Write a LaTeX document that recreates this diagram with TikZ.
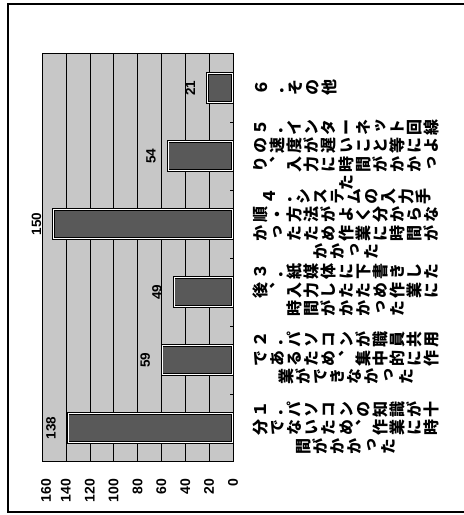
\documentclass[tikz,border=0pt]{standalone}
\usepackage{graphicx}
\usepackage{fontspec}
\setmainfont{Liberation Sans}
\newfontfamily\vjp[RawFeature=+vert]{Noto Sans CJK JP}
\newfontfamily\jph{Noto Sans CJK JP}
% one turned character cell, and a row of them
\newcommand\vcell[1]{\rotatebox[origin=c]{90}{\makebox[1em]{\rule[-0.155em]{0pt}{1.07em}#1}}}
\newcommand\vrow[1]{\vrowi#1\relax}
\def\vrowi#1{\ifx\relax#1\else\vcell{#1}\expandafter\vrowi\fi}
\newcommand\chouon{{\jph ー}}
\newcommand\fwdot{{\jph ．}}

\begin{document}
\begin{tikzpicture}[x=1pt, y=1pt, node distance=18.5pt,
        bar/.style={draw=black, line width=0.9pt, double=white, double distance=0.7pt, fill=black!65, minimum height=29pt, inner sep=0pt, anchor=east},
        val/.style={rotate=90, inner sep=0pt, font=\fontsize{13.5}{14}\selectfont\bfseries},
        axislab/.style={rotate=90, inner sep=0pt, anchor=east, font=\fontsize{14}{14}\selectfont\bfseries},
        cat/.style={inner sep=0pt, font=\vjp\fontsize{16}{16}\selectfont\bfseries}]
        \useasboundingbox (0,0) rectangle (464,515);
        % Frame
        \draw[line width=1.1pt] (464,511) -- (8,511) -- (8,3) -- (464,3);

        % Plot area
        \node (plot) [fill=black!22, minimum width=191pt, minimum height=408pt, inner sep=0pt, anchor=south west] at (42,53) {};
        \draw (209.1,53) -- (209.1,461);
        \draw (185.25,53) -- (185.25,461);
        \draw (161.4,53) -- (161.4,461);
        \draw (137.5,53) -- (137.5,461);
        \draw (113.6,53) -- (113.6,461);
        \draw (89.75,53) -- (89.75,461);
        \draw (65.9,53) -- (65.9,461);
        \draw[line width=1pt] (plot.south west) rectangle (plot.north east);

        % Bars
        \node (bar1) [bar, minimum width=164.7pt] at (233,87) {};
        \node (bar2) [bar, minimum width=70.4pt] at (233,155) {};
        \node (bar3) [bar, minimum width=58.5pt] at (233,223) {};
        \node (bar4) [bar, minimum width=179.1pt] at (233,291) {};
        \node (bar5) [bar, minimum width=64.5pt] at (233,359) {};
        \node (bar6) [bar, minimum width=25.1pt] at (233,427) {};
        \draw (233,121) -- (230,121);
        \draw (233,189) -- (230,189);
        \draw (233,257) -- (230,257);
        \draw (233,325) -- (230,325);
        \draw (233,393) -- (230,393);

        % Values
        \node (v1) [val] at ([xshift=-16.5pt]bar1.west) {138};
        \node (v2) [val] at ([xshift=-16.5pt]bar2.west) {59};
        \node (v3) [val] at ([xshift=-16.5pt]bar3.west) {49};
        \node (v4) [val] at ([xshift=-16.5pt]bar4.west) {150};
        \node (v5) [val] at ([xshift=-16.5pt]bar5.west) {54};
        \node (v6) [val] at ([xshift=-16.5pt]bar6.west) {21};

        % Axis
        \node (a0) [axislab] at (233,36) {0};
        \node (a20) [axislab] at (209.1,36) {20};
        \node (a40) [axislab] at (185.25,36) {40};
        \node (a60) [axislab] at (161.4,36) {60};
        \node (a80) [axislab] at (137.5,36) {80};
        \node (a100) [axislab] at (113.6,36) {100};
        \node (a120) [axislab] at (89.75,36) {120};
        \node (a140) [axislab] at (65.9,36) {140};
        \node (a160) [axislab] at (46,36) {160};

        % Categories
        \node (c1a) [cat] at (346,105.5) {\vrow{１\fwdot パソコンの知識が十}};
        \node (c1b) [cat, below of=c1a] {\vrow{分でないため、作業に時}};
        \node (c1c) [cat, below of=c1b] {\vrow{間がかかった}};
        \node (c2a) [cat] at (346,175) {\vrow{２\fwdot パソコンが職員共用}};
        \node (c2b) [cat, below of=c2a] {\vrow{であるため、集中的に作}};
        \node (c2c) [cat, below of=c2b] {\vrow{業ができなかった}};
        \node (c3a) [cat] at (346,243) {\vrow{３\fwdot 紙媒体に下書きした}};
        \node (c3b) [cat, below of=c3a] {\vrow{後、入力したため作業に}};
        \node (c3c) [cat, below of=c3b] {\vrow{時間がかかった}};
        \node (c4a) [cat] at (346,318.75) {\vrow{４\fwdot システムの入力手}};
        \node (c4b) [cat, below of=c4a] {\vrow{順・方法がよく分からな}};
        \node (c4c) [cat, below of=c4b] {\vrow{かったため作業に時間が}};
        \node (c4d) [cat, below of=c4c] {\vrow{かかった}};
        \node (c5a) [cat] at (346,387.5) {\vrow{５\fwdot インタ\chouon ネット回線}};
        \node (c5b) [cat, below of=c5a] {\vrow{の速度が遅いこと等によ}};
        \node (c5c) [cat, below of=c5b] {\vrow{り、入力に時間がかかっ}};
        \node (c5d) [cat, below of=c5c] {\vrow{た}};
        \node (c6) [cat, anchor=west] at (252.5,427) {\vrow{６\fwdot その他}};
\end{tikzpicture}
\end{document}
